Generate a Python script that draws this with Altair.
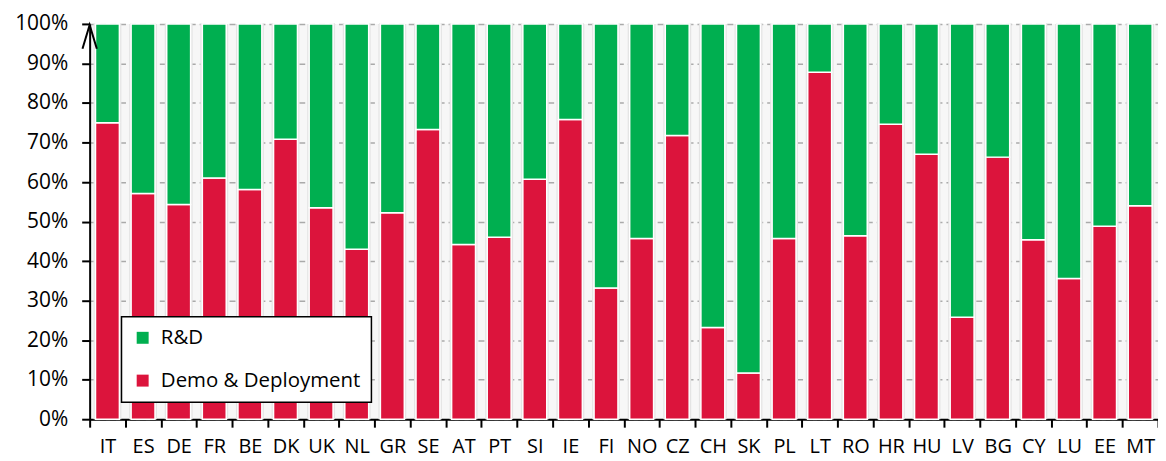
import altair as alt
import pandas as pd

countries = ["IT", "ES", "DE", "FR", "BE", "DK", "UK", "NL", "GR", "SE",
             "AT", "PT", "SI", "IE", "FI", "NO", "CZ", "CH", "SK", "PL",
             "LT", "RO", "HR", "HU", "LV", "BG", "CY", "LU", "EE", "MT"]
demo = [75.0, 57.1, 54.3, 61.0, 58.1, 70.8, 53.5, 43.0, 52.2, 73.3,
        44.2, 46.0, 60.7, 75.8, 33.2, 45.7, 71.8, 23.2, 11.7, 45.7,
        87.8, 46.4, 74.6, 67.0, 25.8, 66.3, 45.4, 35.6, 48.8, 54.0]
rd = [25.0, 42.9, 45.7, 39.0, 41.9, 29.2, 46.5, 57.0, 47.8, 26.7,
      55.8, 54.0, 39.3, 24.2, 66.8, 54.3, 28.2, 76.8, 88.3, 54.3,
      12.2, 53.6, 25.4, 33.0, 74.2, 33.7, 54.6, 64.4, 51.2, 46.0]
series = ["R&D", "Demo & Deployment"]
colors = ["#00AF50", "#DC143C"]
y_ticks = [0, 10, 20, 30, 40, 50, 60, 70, 80, 90, 100]

FONT = "Open Sans"

rows = []
for c, d, r in zip(countries, demo, rd):
    rows.append({"country": c, "series": "Demo & Deployment", "value": d, "order": 0})
    rows.append({"country": c, "series": "R&D", "value": r, "order": 1})
df = pd.DataFrame(rows)
base_df = pd.DataFrame({"country": countries})

x_enc = alt.X(
    "country:N", sort=countries, title=None,
    scale=alt.Scale(paddingInner=0, paddingOuter=0),
    axis=alt.Axis(labelAngle=0, tickBand="extent", grid=False),
)
y_scale = alt.Scale(domain=[0, 100], nice=False)
y_axis = alt.Axis(values=y_ticks, labelExpr="datum.value + '%'", labelOverlap=False,
                  grid=True, gridDash=[6, 4], gridColor="#aaaaaa", gridWidth=1.5,
                  labelPadding=14, labelFontSize=21)

shadow = alt.Chart(base_df).mark_bar(size=28, color="#e4e4e4").encode(
    x=x_enc,
    y=alt.Y("v:Q", scale=y_scale, axis=y_axis, title=None),
    y2=alt.datum(0),
).transform_calculate(v="100")

bars = alt.Chart(df).mark_bar(size=24, stroke="white", strokeWidth=1.5).encode(
    x=alt.X("country:N", sort=countries),
    y=alt.Y("value:Q", stack="zero", title=None, scale=y_scale, axis=y_axis),
    color=alt.Color(
        "series:N",
        scale=alt.Scale(domain=series, range=colors),
        legend=alt.Legend(title=None, orient="none", legendX=32, legendY=294,
                          symbolType="square", symbolSize=144, symbolStrokeWidth=0,
                          labelFontSize=20.5, labelFont=FONT, labelColor="black",
                          labelLimit=0, labelOffset=8, padding=11, rowPadding=22,
                          strokeColor="black", fillColor="white"),
    ),
    order=alt.Order("order:Q", sort="ascending"),
)

arrow = alt.Chart(base_df).mark_point(
    shape="M-0.3,1L0,0L0.3,1", size=2304, filled=False, stroke="black", strokeWidth=2, opacity=1
).encode(x=alt.value(0), y=alt.value(1)).transform_filter(alt.datum.country == "IT")

chart = alt.layer(shadow, bars, arrow).properties(
    width=1073, height=397,
    autosize=alt.AutoSizeParams(type="none"),
    padding={"left": 82, "top": 15, "right": 0, "bottom": 41},
).configure_view(stroke=None, fill="#f7f7f7").configure_legend(
    strokeWidth=1.5
).configure_axis(
    domainColor="black", domainWidth=2, tickColor="black", tickWidth=2, tickSize=8,
    labelFont=FONT, labelColor="black", labelFontSize=22,
).configure_axisX(labelPadding=9, labelFontSize=20)

chart.save("out.html", embed_options={"renderer": "svg", "actions": False})
